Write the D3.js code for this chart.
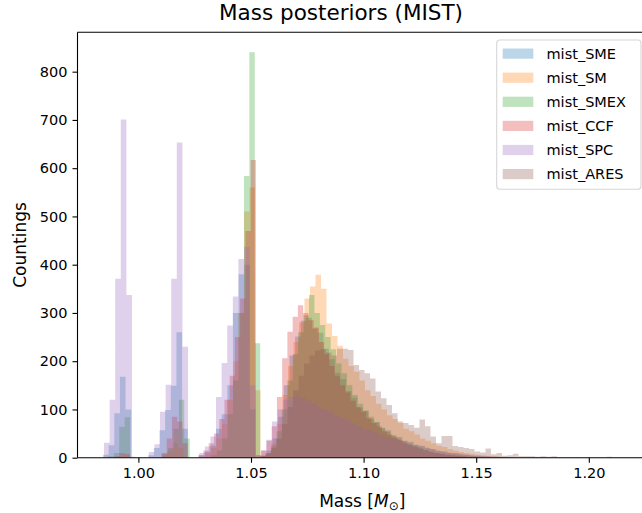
<!DOCTYPE html>
<html>
<head>
<meta charset="utf-8">
<script src="https://cdn.jsdelivr.net/npm/d3@7"></script>
<style>
  html, body { margin: 0; padding: 0; background: #ffffff; }
  svg { display: block; font-family: "DejaVu Sans", sans-serif; }
</style>
</head>
<body>
<svg id="chart" width="642" height="513"></svg>
<script>
// Series shown in the legend, in plotting order
const seriesNames = ["mist_SME", "mist_SM", "mist_SMEX", "mist_CCF", "mist_SPC", "mist_ARES"];
const seriesColors = ["#1f77b4", "#ff7f0e", "#2ca02c", "#d62728", "#9467bd", "#8c564b"];

// Left edge of the first bin and the bin width of each histogram (solar masses)
const binStart = [0.98428, 0.98584, 0.98428, 0.98459, 0.98473, 1.05400];
const binWidth = [0.002509, 0.002442, 0.002407, 0.002331, 0.002487, 0.002442];

// Counts per bin
const countsSME = [6, 26, 92, 168, 100, 0, 0, 0, 5, 20, 57, 99, 149, 260, 60, 0, 0,
  5, 12, 25, 60, 90, 150, 300, 380, 400, 100, 0,
  5, 15, 40, 85, 150, 212, 251, 284, 290, 268, 259, 226, 204, 176, 163, 138, 125, 104,
  97, 80, 74, 61, 57, 46, 43, 35, 33, 27, 25, 20, 18, 14, 13, 10, 9, 7, 6, 4, 4, 3, 2, 2, 1];
const countsSM = [0, 0, 3, 5, 0, 0, 0, 0, 0, 0, 5, 15, 30, 20, 0, 0, 0, 0,
  8, 20, 40, 70, 120, 200, 300, 510, 560, 140,
  3, 10, 30, 70, 130, 190, 240, 280, 330, 355, 379, 350, 278, 252, 232, 205, 190, 178,
  160, 140, 128, 112, 100, 88, 80, 72, 60, 55, 48, 40, 35, 30, 25, 22, 18, 15, 12, 10,
  8, 6, 5, 4, 3, 2, 2, 1];
const countsSMEX = [0, 3, 10, 64, 84, 0, 0, 0, 0, 0, 0, 8, 20, 60, 120, 40, 0, 0, 0, 0,
  5, 15, 40, 90, 160, 300, 584, 840, 237,
  3, 10, 25, 55, 100, 160, 215, 260, 295, 337, 300, 275, 250, 225, 195, 175, 150, 130,
  112, 98, 85, 73, 62, 54, 46, 40, 34, 28, 24, 20, 16, 13, 10, 8, 6, 5, 4, 3, 2, 2, 1];
const countsCCF = [0, 0, 3, 10, 8, 2, 0, 0, 0, 0, 0, 10, 40, 85, 75, 30, 0, 0,
  5, 15, 30, 50, 80, 120, 170, 250, 330, 470, 617,
  5, 15, 35, 65, 126, 206, 261, 292, 316, 300, 285, 270, 240, 215, 190, 170, 150, 135,
  118, 105, 95, 82, 72, 65, 55, 48, 42, 36, 30, 26, 22, 18, 15, 12, 10, 8, 6, 5, 4, 3, 2, 2];
const countsSPC = [31, 120, 371, 701, 337, 0, 0, 0, 12, 28, 95, 151, 371, 653, 230, 0, 0,
  10, 23, 44, 126, 196, 274, 334, 412, 437, 150,
  5, 15, 37, 75, 100, 120, 126, 128, 124, 118, 112, 105, 100, 95, 88, 82, 78, 72, 66,
  60, 57, 52, 47, 43, 40, 37, 33, 30, 27, 24, 21, 18, 15, 13, 11, 9, 8, 6, 5, 4, 3, 3,
  2, 2, 1, 1];
const countsARES = [3, 8, 20, 40, 70, 105, 140, 170, 195, 212, 222, 225, 218, 212, 226,
  226, 223, 192, 182, 175, 164, 137, 123, 109, 92, 75, 72, 68, 62, 79, 65, 44, 30, 45, 45,
  24, 22, 20, 18, 13, 11, 19, 7, 10, 4, 5, 8, 3, 3, 3, 2, 3, 2, 3, 1, 0, 0, 1, 0, 0, 0, 0, 0, 2];

const seriesCounts = [countsSME, countsSM, countsSMEX, countsCCF, countsSPC, countsARES];

// Axis ticks
const xTicks = [1.00, 1.05, 1.10, 1.15, 1.20];
const yTicks = [0, 100, 200, 300, 400, 500, 600, 700, 800];

// ---- layout ----
const plot = { left: 77.5, right: 647, top: 32.3, bottom: 457.7 };
const svg = d3.select("#chart");

const x = d3.scaleLinear().domain([0.97296, 1.22584]).range([plot.left, plot.right]);
const y = d3.scaleLinear().domain([0, 881.6]).range([plot.bottom, plot.top]);

svg.append("defs").append("clipPath").attr("id", "plot-clip")
  .append("rect")
  .attr("x", plot.left).attr("y", plot.top)
  .attr("width", plot.right - plot.left).attr("height", plot.bottom - plot.top);

// ---- histograms (filled step outlines, semi-transparent) ----
const area = d3.area()
  .curve(d3.curveStepAfter)
  .x(d => x(d.x))
  .y0(y(0))
  .y1(d => y(d.c));

const histLayer = svg.append("g").attr("clip-path", "url(#plot-clip)");
seriesNames.forEach((name, i) => {
  const counts = seriesCounts[i];
  const pts = counts.map((c, k) => ({ x: binStart[i] + k * binWidth[i], c }));
  pts.push({ x: binStart[i] + counts.length * binWidth[i], c: counts[counts.length - 1] });
  histLayer.append("path")
    .datum(pts)
    .attr("d", area)
    .attr("fill", seriesColors[i])
    .attr("fill-opacity", 0.3)
    .attr("stroke", "none");
});

// ---- axes ----
const xAxis = d3.axisBottom(x)
  .tickValues(xTicks)
  .tickFormat(d3.format(".2f"))
  .tickSize(5)
  .tickPadding(5);
const gx = svg.append("g").attr("transform", `translate(0,${plot.bottom})`).call(xAxis);

const yAxis = d3.axisLeft(y)
  .tickValues(yTicks)
  .tickFormat(d3.format("d"))
  .tickSize(5)
  .tickPadding(5);
const gy = svg.append("g").attr("transform", `translate(${plot.left},0)`).call(yAxis);

[gx, gy].forEach(g => {
  g.select(".domain").remove();
  g.selectAll(".tick line").attr("stroke", "#000").attr("stroke-width", 1.1);
  g.selectAll(".tick text")
    .attr("fill", "#000")
    .style("font-family", "'DejaVu Sans', sans-serif")
    .style("font-size", "14.5px");
});

// spines
const spines = svg.append("g").attr("stroke", "#000").attr("stroke-width", 1.1).attr("fill", "none");
spines.append("line").attr("x1", plot.left).attr("x2", plot.left).attr("y1", plot.top).attr("y2", plot.bottom);
spines.append("line").attr("x1", plot.left).attr("x2", plot.right).attr("y1", plot.bottom).attr("y2", plot.bottom);
spines.append("line").attr("x1", plot.left).attr("x2", plot.right).attr("y1", plot.top).attr("y2", plot.top);
spines.append("line").attr("x1", plot.right).attr("x2", plot.right).attr("y1", plot.top).attr("y2", plot.bottom);

// ---- titles ----
const midX = (plot.left + plot.right) / 2;
svg.append("text")
  .attr("x", 341).attr("y", 20)
  .attr("text-anchor", "middle")
  .style("font-size", "21.5px")
  .attr("fill", "#000")
  .text("Mass posteriors (MIST)");

const xlab = svg.append("text")
  .attr("x", midX).attr("y", 507)
  .attr("text-anchor", "middle")
  .style("font-size", "17px")
  .attr("fill", "#000");
xlab.append("tspan").text("Mass [");
xlab.append("tspan").style("font-style", "italic").text("M");
xlab.append("tspan").attr("dy", 3).style("font-size", "12px").text("\u2299");
xlab.append("tspan").attr("dy", -3).text("]");

svg.append("text")
  .attr("transform", `translate(26,${(plot.top + plot.bottom) / 2}) rotate(-90)`)
  .attr("text-anchor", "middle")
  .style("font-size", "17px")
  .attr("fill", "#000")
  .text("Countings");

// ---- legend ----
const legend = svg.append("g");
legend.append("rect")
  .attr("x", 496.7).attr("y", 40)
  .attr("width", 144.3).attr("height", 149.3)
  .attr("rx", 3).attr("ry", 3)
  .attr("fill", "#ffffff").attr("fill-opacity", 0.8)
  .attr("stroke", "#d6d6d6").attr("stroke-width", 1.1);

const rowY = d3.scaleLinear().domain([0, 5]).range([53.5, 174]);
seriesNames.forEach((name, i) => {
  const cy = rowY(i);
  legend.append("rect")
    .attr("x", 502.7).attr("y", cy - 5)
    .attr("width", 30.6).attr("height", 10.2)
    .attr("fill", seriesColors[i]).attr("fill-opacity", 0.3);
  legend.append("text")
    .attr("x", 546.5).attr("y", cy + 5.2)
    .style("font-size", "14.5px")
    .attr("fill", "#000")
    .text(name);
});
</script>
</body>
</html>
